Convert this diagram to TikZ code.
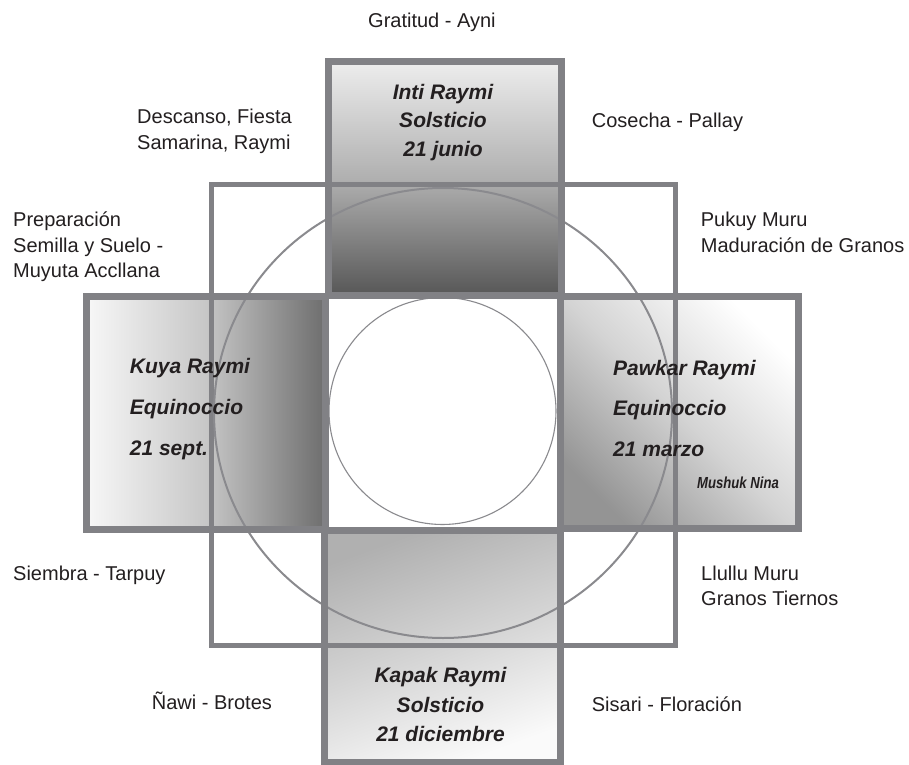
\documentclass[tikz,border=0pt]{standalone}
\usepackage{fontspec}
\setmainfont{Liberation Sans}
\newfontfamily\narrowfont[FakeStretch=0.82]{Liberation Sans}
\definecolor{edge}{HTML}{818185}
\definecolor{ringc}{HTML}{8A8A8E}
\definecolor{ink}{HTML}{231F20}
\tikzset{
  frame/.style={draw=edge, line width=7bp},
  midsq/.style={draw=edge, line width=5bp},
  bigring/.style={draw=ringc, line width=2bp},
  smallring/.style={draw=ringc, line width=1.1bp},
  lbl/.style={inner sep=0pt, text=ink, align=left, font=\fontsize{20bp}{25.5bp}\selectfont},
  fest/.style={inner sep=0pt, text=ink},
}
\begin{document}
\begin{tikzpicture}[x=1bp,y=-1bp]
\useasboundingbox (0,0) rectangle (909,765);
\fill[white] (0,0) rectangle (909,765);
% gradient fills
\path[top color=black!7, bottom color=black!66, middle color=black!31] (328.3,61.5) rectangle (561,295.5);
\path[left color=black!3, right color=black!57, middle color=black!22] (86.5,296) rectangle (325.5,529);
\path[top color=white, bottom color=black!42, middle color=black!17, shading angle=-45] (560,296.5) rectangle (798.5,528.5);
\path[top color=black!31, bottom color=black!2, middle color=black!17, shading angle=20] (324,530) rectangle (560,762);
% outlines
\draw[midsq] (211.5,184.5) rectangle (675,645.5);
\draw[bigring] (443,413) ellipse [x radius=229, y radius=225];
\draw[smallring] (442.5,411) circle [radius=113.5];
\draw[frame] (328.3,61.5) rectangle (561,295.5);
\draw[frame] (86.5,296) rectangle (325.5,529);
\draw[frame] (560,296.5) rectangle (798.5,528.5);
\draw[frame] (324,530) rectangle (560,762);
% outer labels
\node[lbl, anchor=base west] (gratitud) at (368,28) {Gratitud - Ayni};
\node[lbl, anchor=north west] (descanso) at (137,104.3) {\rule{0pt}{19bp}Descanso, Fiesta\\Samarina, Raymi};
\node[lbl, anchor=base west] (cosecha) at (591.7,127.5) {Cosecha - Pallay};
\node[lbl, anchor=north west] (preparacion) at (13,207.7) {\rule{0pt}{19bp}Preparación\\Semilla y Suelo -\\Muyuta Accllana};
\node[lbl, anchor=north west] (pukuy) at (700.7,207.7) {\rule{0pt}{19bp}Pukuy Muru\\Maduración de Granos};
\node[lbl, anchor=base west] (siembra) at (13,580) {Siembra - Tarpuy};
\node[lbl, anchor=north west] (llullu) at (701,561) {\rule{0pt}{19bp}Llullu Muru\\Granos Tiernos};
\node[lbl, anchor=base west] (nawi) at (151.7,709.5) {Ñawi - Brotes};
\node[lbl, anchor=base west] (sisari) at (591.7,711) {Sisari - Floración};
% festival labels
\node[fest, align=center, anchor=north, font=\bfseries\itshape\fontsize{21bp}{28.5bp}\selectfont] (inti) at (443,79) {\rule{0pt}{20bp}Inti Raymi\\Solsticio\\21 junio};
\node[fest, align=left, anchor=north west, font=\bfseries\itshape\fontsize{21bp}{41bp}\selectfont] (kuya) at (129.7,353.3) {\rule{0pt}{20bp}Kuya Raymi\\Equinoccio\\21 sept.};
\node[fest, align=left, anchor=north west, font=\bfseries\itshape\fontsize{21bp}{40.5bp}\selectfont] (pawkar) at (613,355) {\rule{0pt}{20bp}Pawkar Raymi\\Equinoccio\\21 marzo};
\node[fest, anchor=base west, font=\narrowfont\bfseries\itshape\fontsize{16bp}{16bp}\selectfont] (mushuk) at (697,488.3) {Mushuk Nina};
\node[fest, align=center, anchor=north, font=\bfseries\itshape\fontsize{21bp}{29.5bp}\selectfont] (kapak) at (440.5,662.7) {\rule{0pt}{20bp}Kapak Raymi\\Solsticio\\21 diciembre};
\end{tikzpicture}
\end{document}
